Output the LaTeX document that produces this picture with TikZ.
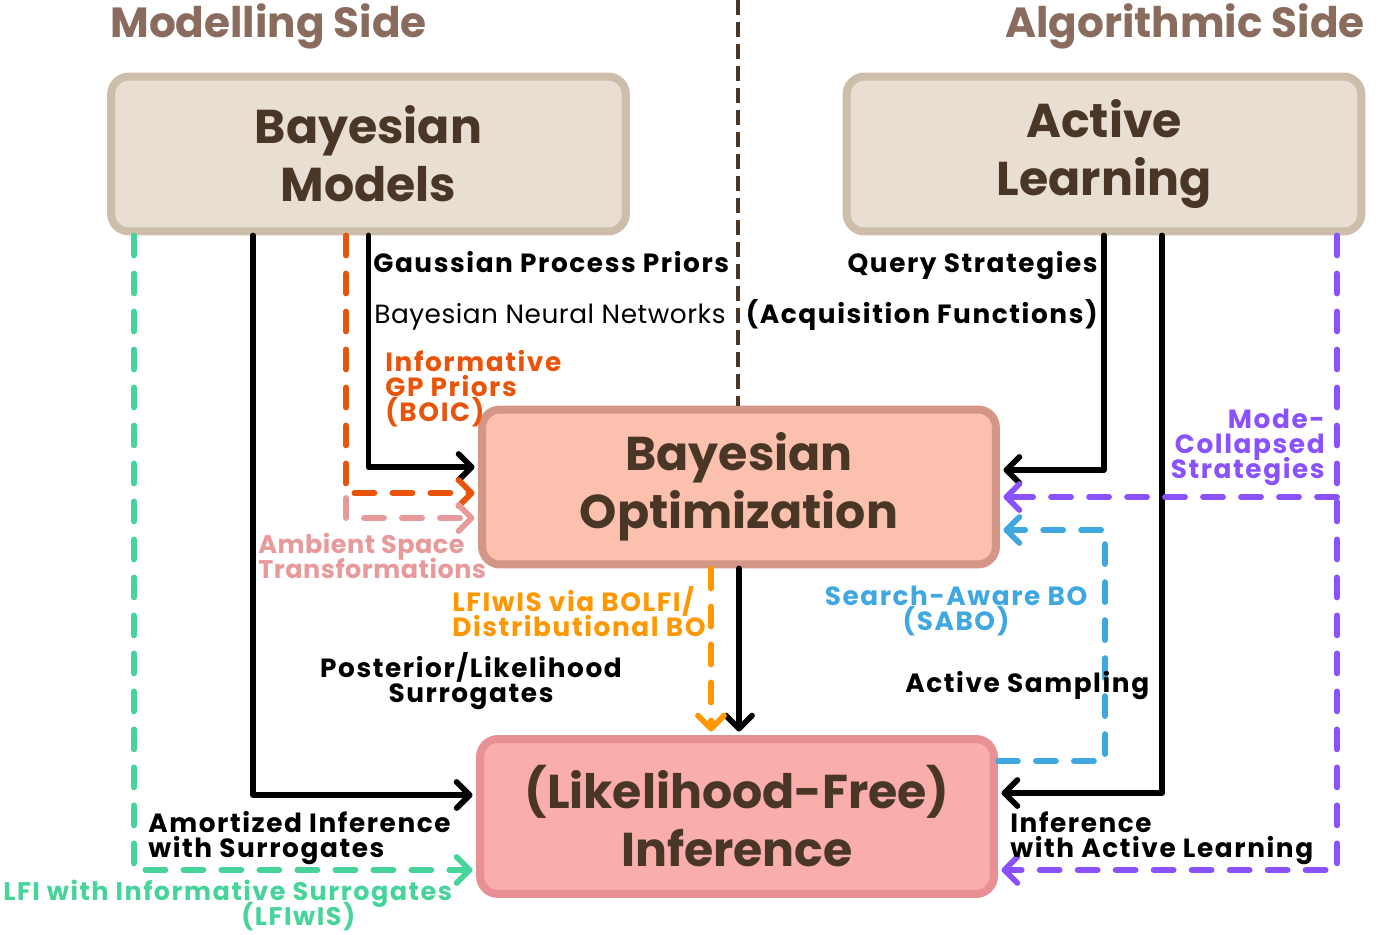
\documentclass[tikz,border=0pt]{standalone}
\usepackage{fontspec}
\setmainfont{Poppins}
\newfontfamily\lblfont[LetterSpace=6]{Poppins}
\newfontfamily\lblthin[LetterSpace=2]{Poppins}
\newcommand\tightlines{\lineskiplimit=-20pt\relax}
\usetikzlibrary{arrows.meta}

\definecolor{hdrbrown}{RGB}{138,108,94}
\definecolor{boxtext}{RGB}{74,54,38}
\definecolor{beigefill}{RGB}{232,223,210}
\definecolor{beigeline}{RGB}{205,190,172}
\definecolor{bofill}{RGB}{252,192,174}
\definecolor{boline}{RGB}{212,150,135}
\definecolor{inffill}{RGB}{249,174,172}
\definecolor{infline}{RGB}{232,144,148}
\definecolor{greenline}{RGB}{71,212,154}
\definecolor{orangedark}{RGB}{232,85,10}
\definecolor{pinkline}{RGB}{232,153,154}
\definecolor{orangelight}{RGB}{255,152,0}
\definecolor{blueline}{RGB}{64,168,224}
\definecolor{purpleline}{RGB}{138,82,255}

\begin{document}
\begin{tikzpicture}[
    x=0.02cm, y=-0.02cm,
    box/.style={rounded corners=0.36cm, line width=0.16cm, align=center, text=boxtext,
        font=\fontsize{27}{33}\selectfont\bfseries, minimum height=3.1cm},
    beigebox/.style={box, draw=beigeline, fill=beigefill, minimum width=10.3cm},
    bobox/.style={box, draw=boline, fill=bofill, minimum width=10.28cm},
    infbox/.style={box, draw=infline, fill=inffill, minimum width=10.28cm},
    hdr/.style={font=\fontsize{24}{26}\selectfont\bfseries, text=hdrbrown, inner sep=0pt},
    lbl/.style={font={\lblfont\fontsize{15}{14.2}\selectfont\bfseries\tightlines}, inner sep=0pt},
    conn/.style={line width=3.3pt, line cap=round, line join=round, shorten >=2pt,
        -{Straight Barb[length=0.26cm,width=0.52cm,round]}},
    dconn/.style={conn, dash pattern=on 0.4cm off 0.36cm},
    divider/.style={line width=2pt, boxtext, dash pattern=on 0.3cm off 0.14cm}
]
    \useasboundingbox (0,0) rectangle (1394,934);

    % Headers
    \node[hdr, anchor=base west] (hmod) at (110,37) {Modelling Side};
    \node[hdr, anchor=base east] (halg) at (1365,37) {Algorithmic Side};

    % Boxes
    \node[beigebox] (bm) at (368.5,154) {Bayesian\\Models};
    \node[beigebox] (al) at (1104,154) {Active\\Learning};
    \node[bobox] (bo) at (739,487) {Bayesian\\Optimization};
    \node[infbox] (inf) at (737,816.5) {(Likelihood-Free)\\Inference};

    % Divider
    \coordinate (top) at (738,0);
    \draw[divider] (top) -- (top |- bo.north);

    % Modelling side -> BO
    \draw[conn] (bm.south) |- ([yshift=0.4cm]bo.west);
    \draw[dconn, orangedark] ([xshift=-0.45cm]bm.south) |- ([yshift=-0.12cm]bo.west);
    \coordinate (pk) at (346,498);
    \draw[dconn, pinkline] (pk) |- ([yshift=-0.62cm]bo.west);

    % Modelling side -> Inference
    \draw[conn] ([xshift=-2.31cm]bm.south) |- ([yshift=0.43cm]inf.west);
    \draw[dconn, greenline] ([xshift=-4.69cm]bm.south) |- ([yshift=-1.07cm]inf.west);

    % Algorithmic side -> BO and Inference
    \draw[conn] (al.south) |- ([yshift=0.34cm]bo.east);
    \draw[conn] ([xshift=1.16cm]al.south) |- ([yshift=0.47cm]inf.east);
    \draw[dconn, purpleline] ([xshift=4.66cm]al.south) |- ([yshift=-1.07cm]inf.east);
    \coordinate (pm) at (1337,497);
    \draw[dconn, purpleline] (pm) -- (bo.east |- pm);
    \coordinate (sb) at (1105,530);
    \draw[dconn, blueline] ([yshift=1.11cm]inf.east) -| (sb) -- (bo.east |- sb);

    % BO -> Inference
    \draw[conn] (bo.south) -- (bo.south |- inf.north);
    \coordinate (ol) at ([xshift=-0.56cm]bo.south);
    \draw[dconn, orangelight] (ol) -- (ol |- inf.north);

    % Labels (base = last line)
    \node[lbl, anchor=base west] (gpp) at (373,272) {Gaussian Process Priors};
    \node[lbl, anchor=base west, font={\lblthin\fontsize{15}{14.2}\selectfont\mdseries}] (bnn) at (374,323) {Bayesian Neural Networks};
    \node[lbl, anchor=base west, align=left, text=orangedark] (boic) at (385,421) {Informative\\GP Priors\\(BOIC)};
    \node[lbl, anchor=base west, align=left, text=pinkline, font={\lblthin\fontsize{14.5}{14.2}\selectfont\bfseries\tightlines}] (ast) at (258,578) {Ambient Space\\Transformations};
    \node[lbl, anchor=base west, align=left, text=orangelight] (bolfi) at (452,636) {LFIwIS via BOLFI/\\Distributional BO};
    \node[lbl, anchor=base, align=center] (pls) at (471,702) {Posterior/Likelihood\\Surrogates};
    \node[lbl, anchor=base west, align=left] (ais) at (148,857) {Amortized Inference\\with Surrogates};
    \node[lbl, anchor=base west, align=left, text=greenline, font={\lblfont\fontsize{14.5}{14.2}\selectfont\bfseries\tightlines}] (lfis) at (3,925) {LFI with Informative Surrogates\\\hspace*{4.76cm}(LFIwIS)};
    \node[lbl, anchor=base east] (qs) at (1098,272) {Query Strategies};
    \node[lbl, anchor=base east] (acq) at (1098,323) {(Acquisition Functions)};
    \node[lbl, anchor=base east, align=right, text=purpleline] (mcs) at (1325,478) {Mode-\\Collapsed\\Strategies};
    \node[lbl, anchor=base, align=center, text=blueline] (sabo) at (956,630) {Search-Aware BO\\(SABO)};
    \node[lbl, anchor=base west] (as) at (905,692) {Active Sampling};
    \node[lbl, anchor=base west, align=left] (ial) at (1010,857) {Inference\\with Active Learning};
\end{tikzpicture}
\end{document}
